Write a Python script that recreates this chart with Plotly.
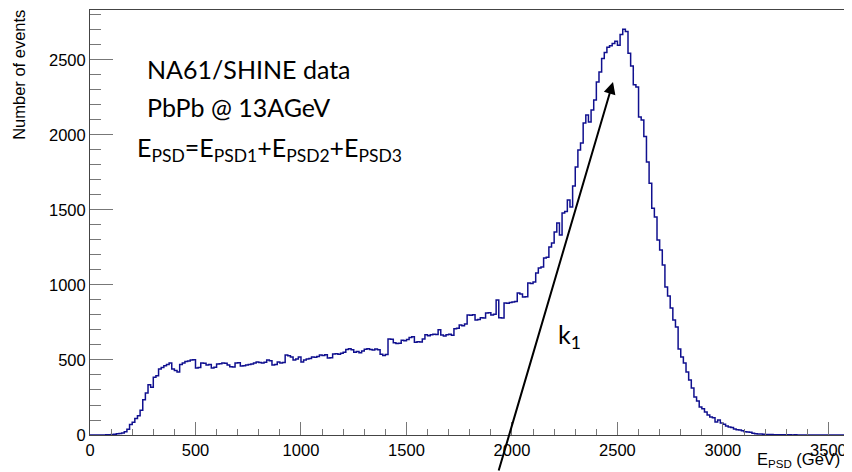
import plotly.graph_objects as go

# histogram binning (GeV)
bin_start = 0.0
bin_width = 12.5

# counts per bin, 16 bins (200 GeV) per row
counts = [
    0, 0, 0, 0, 0, 0, 1, 2, 3, 5, 8, 10, 14, 22, 38, 70,
    85, 110, 128, 165, 235, 280, 335, 318, 385, 395, 440, 450, 462, 470, 480, 440,
    430, 420, 470, 480, 490, 493, 500, 502, 447, 450, 480, 478, 467, 470, 447, 452,
    473, 475, 480, 478, 467, 455, 453, 480, 482, 460, 462, 467, 470, 473, 480, 487,
    484, 480, 485, 500, 495, 467, 470, 487, 480, 484, 533, 528, 520, 500, 506, 520,
    487, 500, 507, 510, 520, 518, 524, 533, 530, 535, 513, 515, 540, 542, 538, 545,
    552, 570, 575, 568, 552, 556, 548, 560, 572, 575, 570, 566, 574, 568, 538, 530,
    536, 640, 638, 615, 610, 612, 632, 628, 636, 650, 655, 618, 622, 620, 640, 668,
    662, 668, 672, 670, 702, 666, 660, 668, 672, 665, 708, 712, 733, 728, 740, 800,
    798, 802, 767, 770, 782, 780, 813, 815, 800, 805, 900, 782, 780, 880, 878, 884,
    887, 890, 947, 940, 920, 922, 1013, 1010, 1020, 1080, 1113, 1120, 1180, 1185, 1253, 1280,
    1353, 1413, 1333, 1480, 1490, 1567, 1520, 1660, 1787, 1900, 1947, 2080, 2133, 2087, 2167, 2233,
    2353, 2420, 2510, 2550, 2585, 2595, 2610, 2625, 2598, 2670, 2705, 2690, 2545, 2460, 2335, 2320,
    2120, 2100, 1990, 1820, 1678, 1511, 1453, 1300, 1233, 1133, 987, 927, 847, 767, 720, 573,
    520, 480, 420, 367, 313, 253, 227, 187, 175, 153, 133, 120, 115, 87, 100, 80,
    72, 60, 53, 50, 40, 35, 33, 28, 22, 20, 18, 12, 8, 7, 6, 5,
    4, 3, 3, 2, 2, 2, 1, 1, 1, 1, 0, 1, 0, 0, 0, 0,
    0, 0, 0, 0, 0, 0, 0, 0, 0, 0, 0, 0, 0, 0, 0, 0,
]

x_ticks = [0, 500, 1000, 1500, 2000, 2500, 3000, 3500]
y_ticks = [0, 500, 1000, 1500, 2000, 2500]

# arrow: head and tail in data units
arrow_head = (2479, 2353)
arrow_tail = (1935, -247)

edges = [bin_start + i * bin_width for i in range(len(counts) + 1)]
levels = counts + [counts[-1]]

fig = go.Figure()
fig.add_trace(go.Scatter(
    x=edges, y=levels, mode="lines", line_shape="hv",
    line=dict(color="#10108f", width=1.5), hoverinfo="skip", showlegend=False,
))

axis_font = dict(family="Liberation Sans, Arial", size=16.5, color="black")

fig.update_xaxes(
    range=[0, 3588], tickvals=x_ticks, ticks="inside", ticklen=13, tickcolor="#777",
    minor=dict(ticks="inside", ticklen=6, dtick=100, tickcolor="#777"),
    showline=True, linecolor="#444", linewidth=1, mirror=True, automargin=False,
    showgrid=False, zeroline=False, tickfont=axis_font,
)
fig.update_yaxes(
    range=[0, 2833], tickvals=y_ticks, ticks="inside", ticklen=23, tickcolor="#777",
    minor=dict(ticks="inside", ticklen=11, dtick=100, tickcolor="#777"),
    showline=True, linecolor="#444", linewidth=1, mirror=True, automargin=False,
    showgrid=False, zeroline=False, tickfont=axis_font,
)

txt_font = dict(family="Lato, Open Sans", size=25, color="black")

fig.add_annotation(x=0.0727, y=0.861, xref="paper", yref="paper", xanchor="left", yanchor="middle",
                   text="NA61/SHINE data", showarrow=False, font=txt_font)
fig.add_annotation(x=0.0727, y=0.772, xref="paper", yref="paper", xanchor="left", yanchor="middle",
                   text="PbPb @ 13AGeV", showarrow=False, font=txt_font)
fig.add_annotation(x=0.0594, y=0.672, xref="paper", yref="paper", xanchor="left", yanchor="middle",
                   text="E<sub>PSD</sub>=E<sub>PSD1</sub>+E<sub>PSD2</sub>+E<sub>PSD3</sub>",
                   showarrow=False, font=txt_font)
fig.add_annotation(x=0.616, y=0.232, xref="paper", yref="paper", xanchor="left", yanchor="middle",
                   text="k<sub>1</sub>", showarrow=False, font=txt_font)

fig.add_annotation(x=arrow_head[0], y=arrow_head[1], ax=arrow_tail[0], ay=arrow_tail[1],
                   xref="x", yref="y", axref="x", ayref="y", text="",
                   showarrow=True, arrowhead=2, arrowsize=1.2, arrowwidth=2, arrowcolor="black")

fig.add_annotation(x=-0.094, y=0.847, xref="paper", yref="paper", xanchor="center", yanchor="middle",
                   text="Number of events", textangle=-90, showarrow=False,
                   font=dict(family="Liberation Sans, Arial", size=16.5, color="black"))
fig.add_annotation(x=0.9934, y=-0.087, xref="paper", yref="paper", xanchor="right", yanchor="bottom",
                   text="E<sub>PSD</sub> (GeV)", showarrow=False,
                   font=dict(family="Liberation Sans, Arial", size=16.5, color="black"))

# the page body adds an 8px offset, so the figure is sized to fit the window
fig.update_layout(
    width=844, height=464,
    margin=dict(l=82, r=5, t=2, b=37),
    plot_bgcolor="white", paper_bgcolor="white",
)

fig.write_html("out.html")
